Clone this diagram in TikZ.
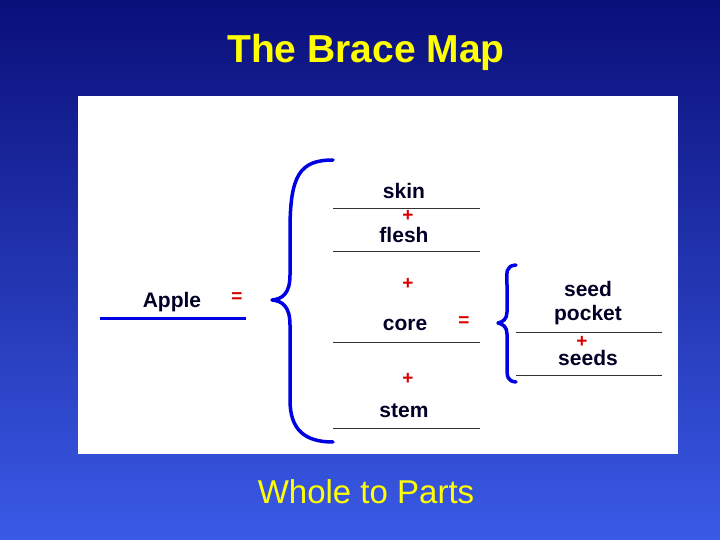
\documentclass[tikz,border=0pt]{standalone}
\usepackage{fontspec}
\setmainfont{Liberation Sans}
\begin{document}
\begin{tikzpicture}[x=1pt,y=-1pt,
  lbl/.style={font=\bfseries\fontsize{21}{23}\selectfont, text=black!85!blue},
  op/.style={font=\bfseries\fontsize{19}{20}\selectfont, text=red!85!black},
  under/.style={line width=1pt, black!80},
  brace/.style={line width=3.5pt, blue!90!black, line cap=round, line join=round}]
\definecolor{bgtop}{HTML}{0A0F7A}
\definecolor{bgbot}{HTML}{3A5AE6}
\definecolor{ttl}{HTML}{FFFF00}
\useasboundingbox (0,0) rectangle (720,540);
\shade[top color=bgtop, bottom color=bgbot] (0,0) rectangle (720,540);
\fill[white] (78,96) rectangle (678,454);
\node[text=ttl, font=\bfseries\fontsize{39}{41}\selectfont] (title) at (366,52) {The Brace Map};
\node[text=ttl, font=\fontsize{33}{35}\selectfont] (sub) at (366,492) {Whole to Parts};
% whole
\node[lbl] (apple) at (172,302) {Apple};
\draw[line width=3pt, blue!90!black] (100,318) -- (246,318);
\node[op] (eq1) at (237,298) {=};
\draw[brace] (333,160) .. controls (300,160) and (290,175) .. (290,230) -- (290,275) .. controls (290,294) and (282,299) .. (272,300) .. controls (282,301) and (290,306) .. (290,325) -- (290,400) .. controls (290,430) and (305,442) .. (333,442);
% parts
\node[lbl] (skin) at (404,191) {skin};
\draw[under] (333,209) -- (480,209);
\node[op] (p1) at (408,216) {+};
\node[lbl] (flesh) at (404,235) {flesh};
\draw[under] (333,251) -- (480,251);
\node[op] (p2) at (408,284) {+};
\node[lbl] (core) at (405,325) {core};
\node[op] (eq2) at (464,322) {=};
\draw[under] (333,342) -- (480,342);
\node[op] (p3) at (408,379) {+};
\node[lbl] (stem) at (404,411) {stem};
\draw[under] (333,428) -- (480,428);
% core parts
\draw[brace] (516,265) .. controls (505,266) and (507,272) .. (507,285) -- (507,312) .. controls (507,319) and (503,322) .. (498,323) .. controls (503,324) and (507,327) .. (507,334) -- (507,365) .. controls (507,377) and (507,381) .. (516,382);
\node[lbl] (seed) at (588,289) {seed};
\node[lbl] (pocket) at (588,315) {pocket};
\draw[under] (516,332) -- (662,332);
\node[op] (p4) at (582,342) {+};
\node[lbl] (seeds) at (588,358) {seeds};
\draw[under] (516,375) -- (662,375);
\end{tikzpicture}
\end{document}
